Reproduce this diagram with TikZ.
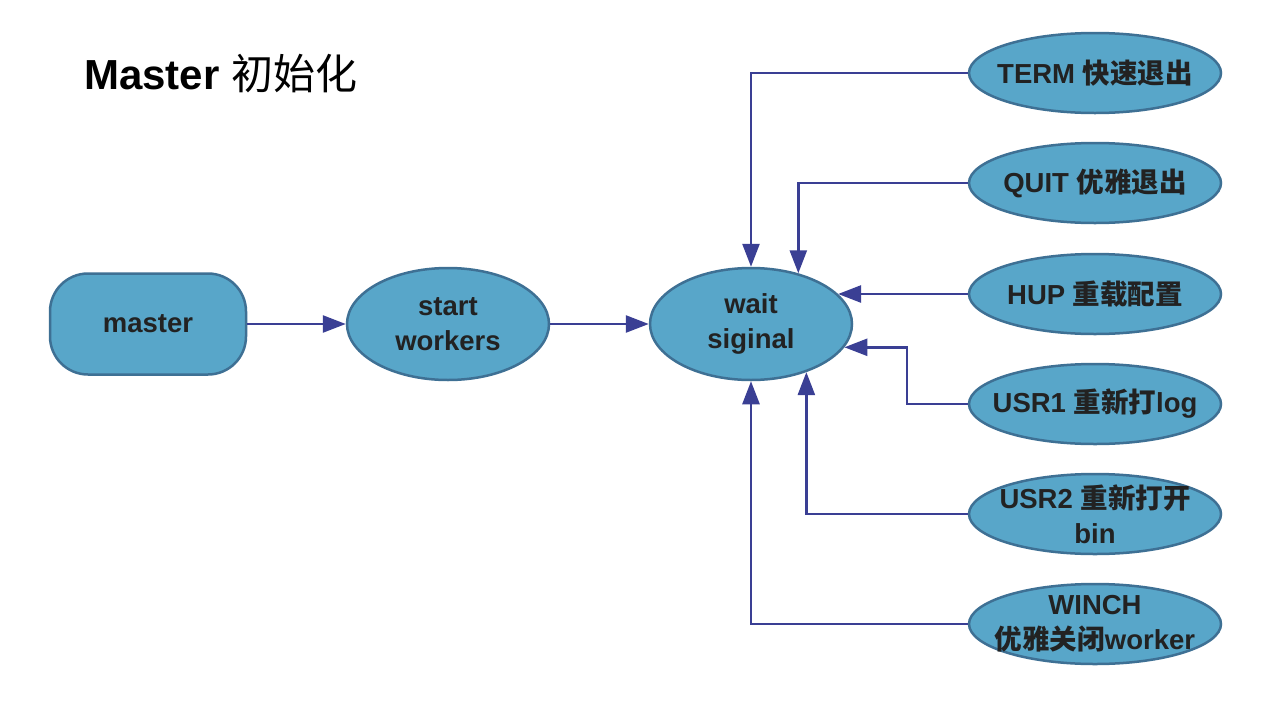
\documentclass[tikz,border=0pt]{standalone}
\usepackage{fontspec}
\setmainfont{Liberation Sans}
\newfontfamily\cjk{Noto Sans CJK SC}
\newcommand\zh[1]{{\cjk #1}}
\usetikzlibrary{shapes.geometric,arrows.meta}
\definecolor{nodefill}{RGB}{88,166,201}
\definecolor{nodeedge}{RGB}{62,112,148}
\definecolor{arrowc}{RGB}{58,63,148}
\definecolor{txt}{RGB}{34,34,34}
\begin{document}
\begin{tikzpicture}[x=1pt,y=-1pt,
  base/.style={fill=nodefill,draw=nodeedge,line width=2.5pt,text=txt,
    font=\bfseries\fontsize{27.5}{35}\selectfont,align=center,inner sep=0pt},
  bigell/.style={base,ellipse,minimum width=202pt,minimum height=112pt,inner sep=-10pt},
  sigell/.style={base,ellipse,minimum width=252pt,minimum height=80pt,inner xsep=-50pt,inner ysep=-20pt},
  conn/.style={draw=arrowc,line width=2.6pt,-{Triangle[length=23pt,width=17pt]}}]
\useasboundingbox (0,0) rectangle (1288,718);
\fill[white] (0,0) rectangle (1288,718);

\node[anchor=west,inner sep=0pt,font=\bfseries\fontsize{42}{42}\selectfont] (title) at (84,74) {Master {\cjk\mdseries 初始化}};

\node[base,rounded corners=38pt,minimum width=196pt,minimum height=101pt] (master) at (148,324) {master};
\node[bigell] (start) at (448,324) {start\\workers};
\node[bigell] (wait) at (751,324) {wait\\siginal};

\node[sigell] (term) at (1095,73) {TERM \zh{快速退出}};
\node[sigell] (quit) at (1095,183) {QUIT \zh{优雅退出}};
\node[sigell] (hup) at (1095,294) {HUP \zh{重载配置}};
\node[sigell] (usr1) at (1095,404) {USR1 \zh{重新打}log};
\node[sigell] (usr2) at (1095,514) {USR2 \zh{重新打开}\\bin};
\node[sigell] (winch) at (1095,624) {WINCH\\\zh{优雅关闭}worker};

\coordinate (b1) at (907,404);

\draw[conn] (master.east) -- (start.west);
\draw[conn] (start.east) -- (wait.west);
\draw[conn] (term.west) -| (wait.north);
\draw[conn] (quit.west) -| (wait.47.3);
\draw[conn] (hup.west) -- (hup.west -| wait.19.37);
\draw[conn] (usr1.west) -- (b1) |- (wait.-14.02);
\draw[conn] (usr2.west) -| (wait.-41.2);
\draw[conn] (winch.west) -| (wait.south);
\end{tikzpicture}
\end{document}
